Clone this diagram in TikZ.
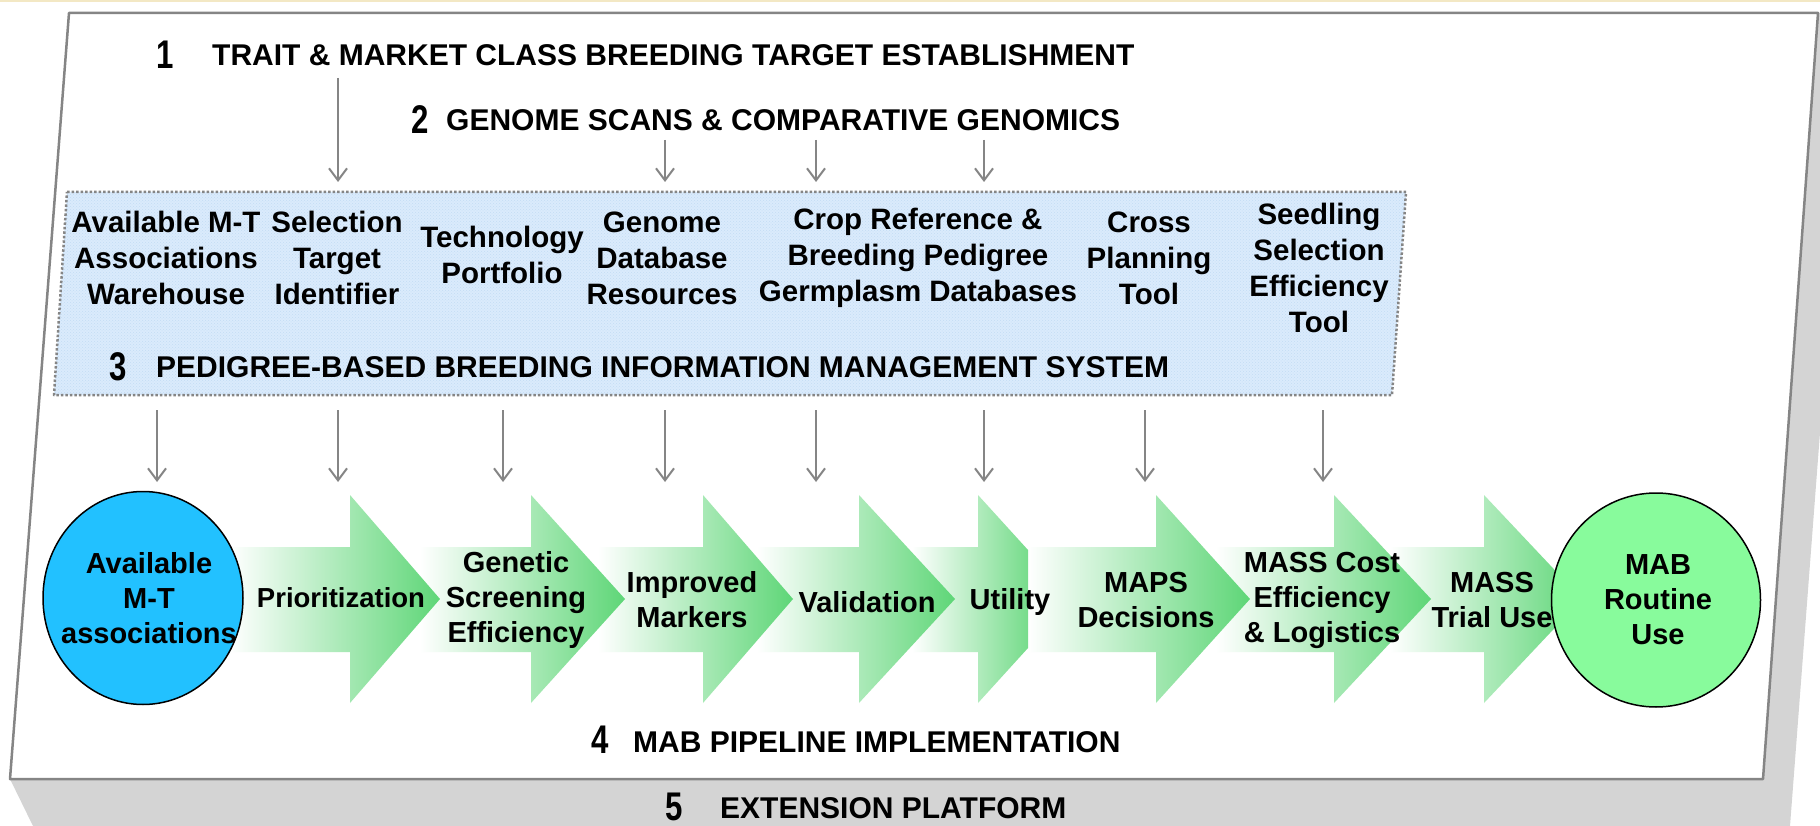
\documentclass[tikz,border=0pt]{standalone}
\usepackage{fontspec}
\setmainfont{Liberation Sans}
\usepackage{graphicx}
\usetikzlibrary{arrows.meta,patterns,shapes.geometric}

\definecolor{topbeige}{HTML}{F3E8C4}
\definecolor{platgray}{HTML}{D4D4D4}
\definecolor{edgegray}{HTML}{858585}
\definecolor{boxblue}{HTML}{DAEBFC}
\definecolor{dotblue}{HTML}{C4DCF4}
\definecolor{mtblue}{HTML}{22C1FF}
\definecolor{mabgreen}{HTML}{88FB9C}
\definecolor{arrowgreen}{HTML}{5ED677}

\newcommand{\stepdigit}[1]{\scalebox{0.78}[1]{\fontsize{40}{40}\selectfont\bfseries #1}}

% one green pipeline arrow: body start, head base, tip
\newcommand{\pipearrow}[3]{%
  \shade[left color=white, right color=arrowgreen]
    (#1,547) -- (#2,547) -- (#2,495) -- (#3,599) -- (#2,703) -- (#2,652) -- (#1,652) -- cycle;}

\tikzset{
  title/.style={anchor=west, inner sep=0pt, font=\bfseries\fontsize{30}{35}\selectfont},
  stepnum/.style={inner sep=0pt},
  boxtext/.style={align=center, inner sep=0pt, font=\bfseries\fontsize{29.5}{36}\selectfont},
  pipetext/.style={align=center, inner sep=0pt, font=\bfseries\fontsize{29}{35}\selectfont},
  feed/.style={draw=edgegray, line width=2pt, -{Straight Barb[length=12pt,width=18pt]}},
  blob/.style={ellipse, draw=black, line width=1.5pt, inner sep=0pt}
}

\begin{document}
\begin{tikzpicture}[x=1pt,y=-1pt]
\useasboundingbox (0,0) rectangle (1820,826);

% Thin band along the top
\fill[topbeige] (0,0) rectangle (1820,2.5);

% Platform: gray faces, then white top
\fill[platgray] (10,779) -- (1763,779) -- (1818,13) -- (1852,13) -- (1790,826) -- (33,826) -- cycle;
\filldraw[fill=white, draw=edgegray, line width=2.5pt, line join=round]
  (69,13) -- (1818,13) -- (1763,779) -- (10,779) -- cycle;

% Information management system box
\fill[boxblue] (67,192) -- (1406,192) -- (1392,395) -- (54,395) -- cycle;
\fill[pattern=crosshatch dots, pattern color=dotblue] (67,192) -- (1406,192) -- (1392,395) -- (54,395) -- cycle;
\draw[edgegray, line width=2.5pt, dash pattern=on 2.5pt off 2pt, line join=round]
  (67,192) -- (1406,192) -- (1392,395) -- (54,395) -- cycle;

% Step numbers and titles
\node[stepnum] (n1) at (165,55) {\stepdigit{1}};
\node[stepnum] (n2) at (420,120) {\stepdigit{2}};
\node[stepnum] (n3) at (118,367) {\stepdigit{3}};
\node[stepnum] (n4) at (600,740) {\stepdigit{4}};
\node[stepnum] (n5) at (674,807) {\stepdigit{5}};

\node[title] (t1) at (212,55) {TRAIT \& MARKET CLASS BREEDING TARGET ESTABLISHMENT};
\node[title] (t2) at (446,120) {GENOME SCANS \& COMPARATIVE GENOMICS};
\node[title] (t3) at (156,367) {PEDIGREE-BASED BREEDING INFORMATION MANAGEMENT SYSTEM};
\node[title] (t4) at (633,742) {MAB PIPELINE IMPLEMENTATION};
\node[title] (t5) at (720,808) {EXTENSION PLATFORM};

% System components
\node[boxtext] (c1) at (166,258) {Available M-T\\Associations\\Warehouse};
\node[boxtext] (c2) at (337,258) {Selection\\Target\\Identifier};
\node[boxtext] (c3) at (502,255) {Technology\\Portfolio};
\node[boxtext] (c4) at (662,258) {Genome\\Database\\Resources};
\node[boxtext] (c5) at (918,258) {Crop Reference \&\\Breeding Pedigree\\Germplasm Databases};
\node[boxtext] (c6) at (1149,258) {Cross\\Planning\\Tool};
\node[boxtext] (c7) at (1319,268) {Seedling\\Selection\\Efficiency\\Tool};

% Feeds into the system box
\coordinate (in0) at (338,182);
\draw[feed] ([yshift=-12pt]t1.south -| in0) -- (in0);
\foreach \x [count=\i] in {665,816,984}{
  \coordinate (in\i) at (\x,182);
  \draw[feed] ([yshift=-9pt]t2.south -| in\i) -- (in\i);
}

% Feeds from the system box down to the pipeline
\foreach \x [count=\i] in {157,338,503,665,816,984,1145,1323}{
  \coordinate (out\i) at (\x,410);
  \coordinate (down\i) at (\x,482);
  \draw[feed] (out\i) -- (down\i);
}

% Pipeline arrows, right to left so each head lies on the next body
\pipearrow{1390}{1484}{1582}
\pipearrow{1216}{1334}{1431}
\pipearrow{1028}{1156}{1250}
\shade[left color=white, right color=arrowgreen!85]
  (912,547) -- (978,547) -- (978,495) -- (1028,550) -- (1028,648) -- (978,703) -- (978,652) -- (912,652) -- cycle;
\pipearrow{757}{859}{955}
\pipearrow{598}{703}{793}
\pipearrow{420}{531}{625}
\pipearrow{230}{350}{440}

% End points of the pipeline
\node[blob, fill=mtblue, minimum width=200pt, minimum height=213pt] (mt) at (143,598) {};
\node[blob, fill=mabgreen, minimum width=209pt, minimum height=214pt] (mab) at (1656,600) {};
\node[pipetext] (mtl) at ([xshift=6pt]mt.center) {Available\\M-T\\associations};
\node[pipetext] (mabl) at ([xshift=2pt]mab.center) {MAB\\Routine\\Use};

% Pipeline stages
\node[pipetext] (p1) at (341,598) {\fontsize{27.5}{35}\selectfont Prioritization};
\node[pipetext] (p2) at (516,600) {Genetic\\Screening\\Efficiency};
\node[pipetext] (p3) at (692,600) {Improved\\Markers};
\node[pipetext] (p4) at (867,602) {Validation};
\node[pipetext] (p5) at (1010,602) {Utility};
\node[pipetext] (p6) at (1146,600) {MAPS\\Decisions};
\node[pipetext] (p7) at (1322,600) {MASS Cost\\Efficiency\\\& Logistics};
\node[pipetext] (p8) at (1492,600) {MASS\\Trial Use};

\end{tikzpicture}
\end{document}
